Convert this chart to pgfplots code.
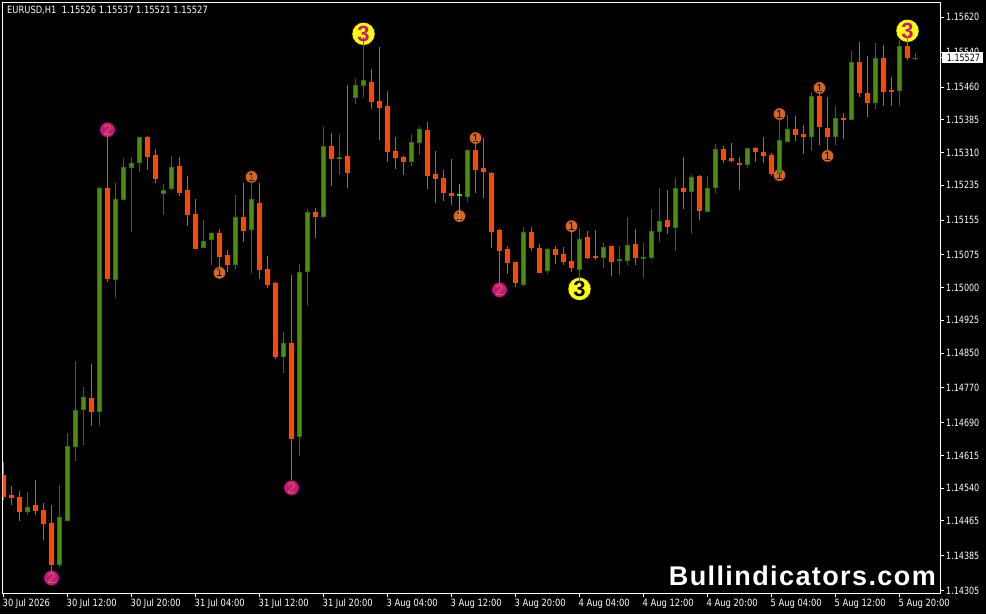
\documentclass[border=0pt]{standalone}
\usepackage{fontspec}
\setmainfont{Liberation Sans}
\newfontfamily\chartfont[FakeStretch=0.8]{DejaVu Sans}
\newfontfamily\labelfont[FakeStretch=0.835]{DejaVu Sans}
\newfontfamily\markfont[LetterSpace=5.2]{Liberation Sans}
\usepackage{pgfplots}
\usepackage{pgfplotstable}
\pgfplotsset{compat=1.18}

\definecolor{bullbody}{HTML}{4E8C14}
\definecolor{bullline}{HTML}{0A860A}
\definecolor{bearcol}{HTML}{FF4500}
\definecolor{dojicol}{HTML}{32DC32}
\definecolor{sigone}{HTML}{D2691E}
\definecolor{sigtwo}{HTML}{C71585}
\definecolor{sigthree}{HTML}{FFFF00}

% bar index, open, high, low, close
\pgfplotstableread{
i open high low close
0 1.14570 1.14600 1.14513 1.14520
1 1.14525 1.14545 1.14502 1.14518
2 1.14520 1.14534 1.14465 1.14486
4 1.14502 1.14559 1.14479 1.14488
5 1.14490 1.14506 1.14421 1.14458
6 1.14462 1.14502 1.14346 1.14364
11 1.14749 1.14825 1.14683 1.14715
13 1.15229 1.15355 1.15013 1.15020
18 1.15346 1.15348 1.15270 1.15300
19 1.15304 1.15318 1.15240 1.15249
22 1.15279 1.15300 1.15210 1.15219
23 1.15224 1.15256 1.15141 1.15167
24 1.15171 1.15203 1.15089 1.15089
27 1.15125 1.15135 1.15041 1.15070
28 1.15075 1.15086 1.15036 1.15052
30 1.15162 1.15240 1.15105 1.15132
32 1.15196 1.15240 1.15020 1.15043
33 1.15045 1.15073 1.14999 1.15008
34 1.15011 1.15013 1.14836 1.14841
36 1.14873 1.15029 1.14559 1.14655
39 1.15174 1.15183 1.15114 1.15162
41 1.15325 1.15355 1.15233 1.15295
43 1.15304 1.15465 1.15229 1.15265
46 1.15472 1.15502 1.15410 1.15426
47 1.15428 1.15552 1.15339 1.15414
48 1.15417 1.15451 1.15288 1.15311
49 1.15313 1.15346 1.15272 1.15297
50 1.15300 1.15302 1.15258 1.15288
53 1.15362 1.15380 1.15226 1.15258
54 1.15261 1.15313 1.15194 1.15249
55 1.15252 1.15270 1.15199 1.15217
56 1.15217 1.15295 1.15190 1.15210
59 1.15316 1.15339 1.15217 1.15270
60 1.15275 1.15343 1.15206 1.15265
61 1.15265 1.15265 1.15091 1.15130
62 1.15132 1.15135 1.15001 1.15084
63 1.15089 1.15096 1.15031 1.15057
64 1.15059 1.15059 1.15001 1.15011
66 1.15128 1.15139 1.15084 1.15091
67 1.15093 1.15100 1.15034 1.15036
69 1.15089 1.15096 1.15054 1.15077
70 1.15079 1.15093 1.15052 1.15059
71 1.15061 1.15128 1.15036 1.15045
73 1.15116 1.15130 1.15066 1.15068
74 1.15073 1.15132 1.15063 1.15068
76 1.15096 1.15096 1.15027 1.15061
79 1.15100 1.15135 1.15052 1.15068
83 1.15155 1.15224 1.15123 1.15139
85 1.15229 1.15300 1.15180 1.15219
87 1.15256 1.15258 1.15155 1.15176
90 1.15320 1.15325 1.15286 1.15295
91 1.15297 1.15332 1.15288 1.15291
92 1.15286 1.15300 1.15224 1.15281
94 1.15320 1.15323 1.15288 1.15311
95 1.15311 1.15346 1.15286 1.15302
96 1.15304 1.15309 1.15256 1.15261
99 1.15364 1.15394 1.15336 1.15350
100 1.15352 1.15373 1.15307 1.15346
102 1.15440 1.15454 1.15327 1.15368
103 1.15368 1.15438 1.15316 1.15346
105 1.15389 1.15401 1.15341 1.15385
107 1.15518 1.15564 1.15438 1.15447
108 1.15447 1.15532 1.15391 1.15424
110 1.15527 1.15557 1.15417 1.15449
111 1.15454 1.15483 1.15417 1.15449
113 1.15555 1.15577 1.15522 1.15527
}\bearbars

\pgfplotstableread{
i open high low close
3 1.14486 1.14531 1.14479 1.14499
7 1.14364 1.14547 1.14359 1.14474
8 1.14467 1.14667 1.14467 1.14639
9 1.14637 1.14832 1.14602 1.14720
10 1.14720 1.14772 1.14639 1.14749
12 1.14715 1.15231 1.14683 1.15229
14 1.15018 1.15240 1.14976 1.15203
15 1.15201 1.15297 1.15201 1.15277
16 1.15275 1.15300 1.15128 1.15288
17 1.15286 1.15346 1.15265 1.15346
20 1.15217 1.15238 1.15167 1.15226
21 1.15226 1.15302 1.15224 1.15277
25 1.15091 1.15155 1.15091 1.15109
26 1.15109 1.15128 1.15052 1.15125
29 1.15052 1.15213 1.15043 1.15162
31 1.15132 1.15258 1.15034 1.15203
35 1.14841 1.14898 1.14804 1.14873
37 1.14658 1.15054 1.14614 1.15038
38 1.15036 1.15180 1.14960 1.15174
40 1.15162 1.15368 1.15160 1.15325
42 1.15297 1.15352 1.15258 1.15302
44 1.15435 1.15479 1.15421 1.15465
45 1.15463 1.15575 1.15438 1.15477
51 1.15288 1.15352 1.15279 1.15334
52 1.15332 1.15368 1.15304 1.15364
58 1.15210 1.15318 1.15196 1.15316
65 1.15006 1.15139 1.15004 1.15128
68 1.15038 1.15091 1.15031 1.15089
72 1.15043 1.15137 1.15011 1.15114
75 1.15068 1.15102 1.15045 1.15093
77 1.15061 1.15096 1.15029 1.15066
78 1.15063 1.15162 1.15052 1.15100
80 1.15068 1.15102 1.15022 1.15070
81 1.15070 1.15180 1.15066 1.15130
82 1.15128 1.15229 1.15105 1.15153
84 1.15137 1.15252 1.15084 1.15229
86 1.15219 1.15258 1.15125 1.15254
88 1.15176 1.15256 1.15176 1.15231
89 1.15231 1.15330 1.15217 1.15320
93 1.15281 1.15320 1.15275 1.15320
97 1.15261 1.15391 1.15261 1.15339
98 1.15336 1.15396 1.15336 1.15364
101 1.15346 1.15449 1.15313 1.15440
104 1.15346 1.15417 1.15327 1.15389
106 1.15387 1.15543 1.15387 1.15518
109 1.15426 1.15561 1.15410 1.15527
112 1.15451 1.15568 1.15417 1.15555
114 1.15526 1.15537 1.15521 1.15527
}\bullbars

\pgfplotstableread{
i open high low close
57 1.15213 1.15238 1.15155 1.15213
}\dojibars

% half a pixel and one pixel, in price
\def\halfpx{0.0000115}
\def\onepx{0.000023}

\pgfplotsset{
  wick/.style={draw=none, forget plot, mark=none,
    error bars/.cd, y dir=plus, y explicit, error mark=none,
    error bar style={draw=#1, solid, line width=1.25pt}},
  body/.style 2 args={draw=none, forget plot, mark=none,
    error bars/.cd, y dir=both, y explicit, error mark=none,
    error bar style={draw=#1, solid, line width=#2}},
  signal/.style n args={5}{only marks, forget plot, mark=*,
    mark size=#2pt, mark options={draw=none, fill=#1},
    nodes near coords={#3},
    every node near coord/.style={anchor=center, inner sep=0pt, text=#4,
      font=\fontsize{#5}{#5}\selectfont}},
}

\begin{document}
\begin{tikzpicture}
\path[use as bounding box, fill=black] (-2.5pt,-20.5pt) rectangle (983.5pt,593.5pt);
\begin{axis}[
  scale only axis, width=938pt, height=591pt,
  clip mode=individual,
  xmin=-0.125, xmax=117.125,
  ymin=1.142986, ymax=1.156539,
  axis line style={white, line width=1pt},
  tick style={white, line width=1pt},
  tick align=outside, major tick length=3.5pt,
  xtick pos=bottom, ytick pos=right,
  xtick={0,8,...,112},
  xticklabels={30 Jul 2026,30 Jul 12:00,30 Jul 20:00,31 Jul 04:00,31 Jul 12:00,31 Jul 20:00,3 Aug 04:00,3 Aug 12:00,3 Aug 20:00,4 Aug 04:00,4 Aug 12:00,4 Aug 20:00,5 Aug 04:00,5 Aug 12:00,5 Aug 20:00},
  ytick={1.15620,1.15540,1.15460,1.15385,1.15310,1.15235,1.15155,1.15075,1.15000,1.14925,1.14850,1.14770,1.14690,1.14615,1.14540,1.14465,1.14385,1.14305},
  scaled y ticks=false,
  tick label style={white, font=\chartfont\fontsize{10}{11}\selectfont},
  xticklabel style={font=\labelfont\fontsize{10}{11}\selectfont, anchor=north west, inner sep=0pt, xshift=-1pt, yshift=-2pt},
  yticklabel style={anchor=west, inner sep=0pt, xshift=2pt,
    /pgf/number format/fixed, /pgf/number format/fixed zerofill,
    /pgf/number format/precision=5, /pgf/number format/assume math mode=true},
]
% signal circles sit under the candles
\addplot[only marks, forget plot, mark=*, mark size=6pt, mark options={draw=none, fill=sigone}] coordinates {
  (72,1.15011)
};
\addplot[signal={sigone}{6.2}{1}{black}{12}] coordinates {
  (31,1.15254) (27,1.15034) (59,1.15343) (57,1.15164) (71,1.15141)
  (97,1.15398) (102,1.15458) (97,1.15258) (103,1.15302)
};
\addplot[signal={sigtwo}{7.7}{2}{sigone}{15}] coordinates {
  (13,1.15362) (6,1.14334) (36,1.14541) (62,1.14995)
};
\addplot[signal={sigthree}{11.5}{\textbf{3}}{sigtwo}{22}] coordinates {
  (45,1.15582) (113,1.15589)
};
\addplot[signal={sigthree}{11.5}{\textbf{3}}{black}{22}] coordinates {
  (72,1.14997)
};
% wicks
\addplot[wick=bearcol] table[x=i, y=low, y error expr=\thisrow{high}-\thisrow{low}] {\bearbars};
\addplot[wick=bullline] table[x=i, y=low, y error expr=\thisrow{high}-\thisrow{low}] {\bullbars};
\addplot[wick=dojicol] table[x=i, y=low, y error expr=\thisrow{high}-\thisrow{low}] {\dojibars};
% bodies
\addplot[body={bearcol}{5pt}] table[x=i, y expr=(\thisrow{open}+\thisrow{close})/2,
  y error expr={max(abs(\thisrow{open}-\thisrow{close})/2,\halfpx)}] {\bearbars};
\addplot[body={bullline}{5pt}] table[x=i, y expr=(\thisrow{open}+\thisrow{close})/2,
  y error expr={max(abs(\thisrow{open}-\thisrow{close})/2,\halfpx)}] {\bullbars};
\addplot[body={bullbody}{3pt}] table[x=i, y expr=(\thisrow{open}+\thisrow{close})/2,
  y error expr={max(abs(\thisrow{open}-\thisrow{close})/2-\onepx,0)}] {\bullbars};
\addplot[body={dojicol}{5pt}] table[x=i, y expr=(\thisrow{open}+\thisrow{close})/2,
  y error expr={\halfpx}] {\dojibars};
\end{axis}
% header, current price tag, watermark
\node[anchor=west, inner sep=0pt, text=white, font=\labelfont\fontsize{10}{11}\selectfont] at (4.5pt,583pt)
  {EURUSD,H1\ \ 1.15526 1.15537 1.15521 1.15527};
\fill[white] (939.5pt,530.5pt) rectangle (980.2pt,541.5pt);
\fill[white] (938pt,535.3pt) rectangle (939.5pt,536.3pt);
\node[anchor=west, inner sep=0pt, text=black, font=\chartfont\fontsize{10}{11}\selectfont] at (944.2pt,536pt) {1.15527};
\node[anchor=base east, inner sep=0pt, text=white, font=\markfont\bfseries\fontsize{27}{30}\selectfont] at (933.5pt,8.5pt) {Bullindicators.com};
\end{tikzpicture}
\end{document}
